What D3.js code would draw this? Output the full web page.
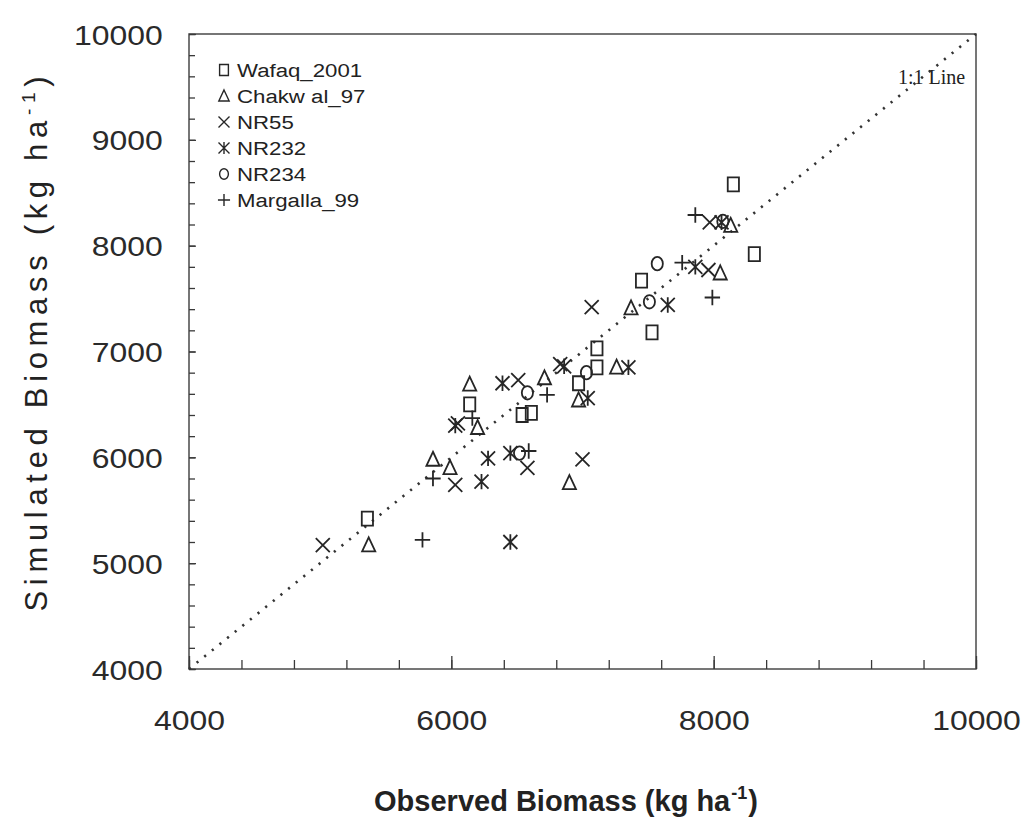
<!DOCTYPE html>
<html>
    <head>
        <script src="https://d3js.org/d3.v7.min.js"></script>
        <style>
            body { margin: 0; background-color: #ffffff; }
            svg text { fill: #222222; }
        </style>
    </head>
    <body>
        <div id="chart"></div>
        <script>
            // observed / simulated biomass, kg ha-1
            const wafaqObs = [5360, 6140, 6540, 6610, 7110, 7110, 6970, 7530, 7450, 8150, 8310];
            const wafaqSim = [5420, 6500, 6400, 6420, 7030, 6850, 6700, 7180, 7670, 8580, 7920];
            const chakwalObs = [5370, 6140, 6200, 5860, 5990, 6710, 6900, 6970, 7260, 7370, 8050, 8130];
            const chakwalSim = [5170, 6690, 6280, 5980, 5900, 6750, 5760, 6540, 6850, 7410, 7740, 8190];
            const nr55Obs = [5020, 6030, 6050, 6510, 6580, 7000, 7070, 6830, 7970, 7960];
            const nr55Sim = [5170, 5740, 6320, 6730, 5900, 5980, 7420, 6880, 8220, 7770];
            const nr232Obs = [6450, 6230, 6030, 6390, 6280, 6450, 7040, 6860, 7350, 7650, 7860, 8060];
            const nr232Sim = [5200, 5770, 6300, 6700, 5990, 6040, 6560, 6860, 6850, 7440, 7800, 8220];
            const nr234Obs = [6520, 6580, 7030, 7510, 7570, 8070];
            const nr234Sim = [6040, 6610, 6800, 7470, 7830, 8230];
            const margallaObs = [5780, 5860, 6160, 6730, 6590, 7760, 7990, 7860];
            const margallaSim = [5220, 5800, 6370, 6590, 6060, 7840, 7510, 8290];

            const seriesNames = ["Wafaq_2001", "Chakw al_97", "NR55", "NR232", "NR234", "Margalla_99"];
            const seriesShapes = ["square", "triangle", "cross", "asterisk", "circle", "plus"];
            const seriesObs = [wafaqObs, chakwalObs, nr55Obs, nr232Obs, nr234Obs, margallaObs];
            const seriesSim = [wafaqSim, chakwalSim, nr55Sim, nr232Sim, nr234Sim, margallaSim];

            const xTicks = [4000, 6000, 8000, 10000];
            const yTicks = [4000, 5000, 6000, 7000, 8000, 9000, 10000];
            const oneToOne = [4000, 10000];

            const width = 1026, height = 834;
            const x = d3.scaleLinear().domain([4000, 10000]).range([189, 976]);
            const y = d3.scaleLinear().domain([4000, 10000]).range([669, 34]);
            const ink = "#262626";

            const svg = d3.select("#chart").append("svg")
                .attr("width", width).attr("height", height)
                .style("font-family", "'Liberation Sans', Arial, sans-serif");

            // frame
            svg.append("rect")
                .attr("x", x(4000)).attr("y", y(10000))
                .attr("width", x(10000) - x(4000)).attr("height", y(4000) - y(10000))
                .attr("fill", "none").attr("stroke", "#4a4a4a").attr("stroke-width", 1.5);

            // inward ticks, minor then major
            const gxMinor = svg.append("g").attr("transform", `translate(0,${y(4000)})`)
                .call(d3.axisBottom(x).tickValues(d3.range(4000, 10001, 400)).tickSize(-9).tickSizeOuter(0).tickFormat(""));
            const gxMajor = svg.append("g").attr("transform", `translate(0,${y(4000)})`)
                .call(d3.axisBottom(x).tickValues(xTicks).tickSize(-13).tickSizeOuter(0).tickPadding(41).tickFormat(d3.format("d")));
            const gyMinor = svg.append("g").attr("transform", `translate(${x(4000)},0)`)
                .call(d3.axisLeft(y).tickValues(d3.range(4000, 10001, 200)).tickSize(-6).tickSizeOuter(0).tickFormat(""));
            const gyMajor = svg.append("g").attr("transform", `translate(${x(4000)},0)`)
                .call(d3.axisLeft(y).tickValues(yTicks).tickSize(-7).tickSizeOuter(0).tickPadding(23).tickFormat(d3.format("d")));

            [gxMinor, gxMajor, gyMinor, gyMajor].forEach(g => {
                g.select(".domain").remove();
                g.selectAll(".tick line").attr("stroke", "#3a3a3a").attr("stroke-width", 1.3);
            });
            gxMajor.selectAll("text").attr("font-size", 28).attr("transform", "scale(1.14,1)").style("fill", "#2a2a2a");
            gyMajor.selectAll("text").attr("font-size", 28).attr("transform", "scale(1.14,1)").style("fill", "#2a2a2a")
                .attr("dy", "0.36em");

            // 1:1 line
            svg.append("path")
                .datum(oneToOne)
                .attr("d", d3.line().x(d => x(d)).y(d => y(d)))
                .attr("fill", "none").attr("stroke", "#333").attr("stroke-width", 2.6)
                .attr("stroke-dasharray", "2.2,7.6");

            svg.append("text")
                .attr("x", 898).attr("y", 84)
                .style("font-family", "'Liberation Serif', 'Times New Roman', serif")
                .attr("font-size", 20)
                .text("1:1 Line");

            function symbolPath(shape, s) {
                const p = d3.path();
                if (shape === "square") {
                    p.rect(-s * 0.4, -s * 0.5, s * 0.8, s);
                } else if (shape === "triangle") {
                    p.moveTo(0, -s * 0.55); p.lineTo(s * 0.47, s * 0.45); p.lineTo(-s * 0.47, s * 0.45); p.closePath();
                } else if (shape === "cross") {
                    p.moveTo(-s * 0.5, -s * 0.5); p.lineTo(s * 0.5, s * 0.5);
                    p.moveTo(s * 0.5, -s * 0.5); p.lineTo(-s * 0.5, s * 0.5);
                } else if (shape === "asterisk") {
                    p.moveTo(-s * 0.5, -s * 0.5); p.lineTo(s * 0.5, s * 0.5);
                    p.moveTo(s * 0.5, -s * 0.5); p.lineTo(-s * 0.5, s * 0.5);
                    p.moveTo(0, -s * 0.55); p.lineTo(0, s * 0.55);
                } else if (shape === "plus") {
                    p.moveTo(-s * 0.55, 0); p.lineTo(s * 0.55, 0);
                    p.moveTo(0, -s * 0.55); p.lineTo(0, s * 0.55);
                }
                return p.toString();
            }

            function circlePath(s) {
                const rx = s * 0.4, ry = s * 0.48;
                return `M${-rx},0A${rx},${ry} 0 1,0 ${rx},0A${rx},${ry} 0 1,0 ${-rx},0Z`;
            }

            function shapeD(shape, s) {
                return shape === "circle" ? circlePath(s) : symbolPath(shape, s);
            }

            // points
            seriesNames.forEach((name, i) => {
                const pts = seriesObs[i].map((o, j) => ({ o: o, s: seriesSim[i][j] }));
                svg.append("g").selectAll("path")
                    .data(pts)
                    .join("path")
                    .attr("transform", d => `translate(${x(d.o)},${y(d.s)})`)
                    .attr("d", shapeD(seriesShapes[i], 14))
                    .attr("fill", "none").attr("stroke", ink).attr("stroke-width", 1.8);
            });

            // legend
            const legend = svg.append("g").attr("transform", "translate(224,70)");
            seriesNames.forEach((name, i) => {
                const row = legend.append("g").attr("transform", `translate(0,${i * 26})`);
                row.append("path")
                    .attr("d", shapeD(seriesShapes[i], 11))
                    .attr("fill", "none").attr("stroke", ink).attr("stroke-width", 1.4);
                row.append("text")
                    .attr("transform", "translate(13,7) scale(1.17,1)")
                    .attr("font-size", 19)
                    .text(name);
            });

            // axis titles
            const xt = svg.append("text")
                .attr("transform", "translate(566,811)")
                .attr("text-anchor", "middle")
                .attr("font-size", 29).attr("font-weight", "bold");
            xt.append("tspan").text("Observed Biomass (kg ha");
            xt.append("tspan").attr("font-size", 18).attr("dx", 1).attr("dy", -12).text("-1");
            xt.append("tspan").attr("dx", 1).attr("dy", 12).text(")");

            const yt = svg.append("text")
                .attr("transform", "translate(47,344) rotate(-90)")
                .attr("text-anchor", "middle")
                .attr("font-size", 31)
                .attr("textLength", 535).attr("lengthAdjust", "spacing");
            yt.append("tspan").text("Simulated Biomass (kg ha");
            yt.append("tspan").attr("font-size", 19).attr("dy", -12).text("-1");
            yt.append("tspan").attr("dy", 12).text(")");
        </script>
    </body>
</html>
